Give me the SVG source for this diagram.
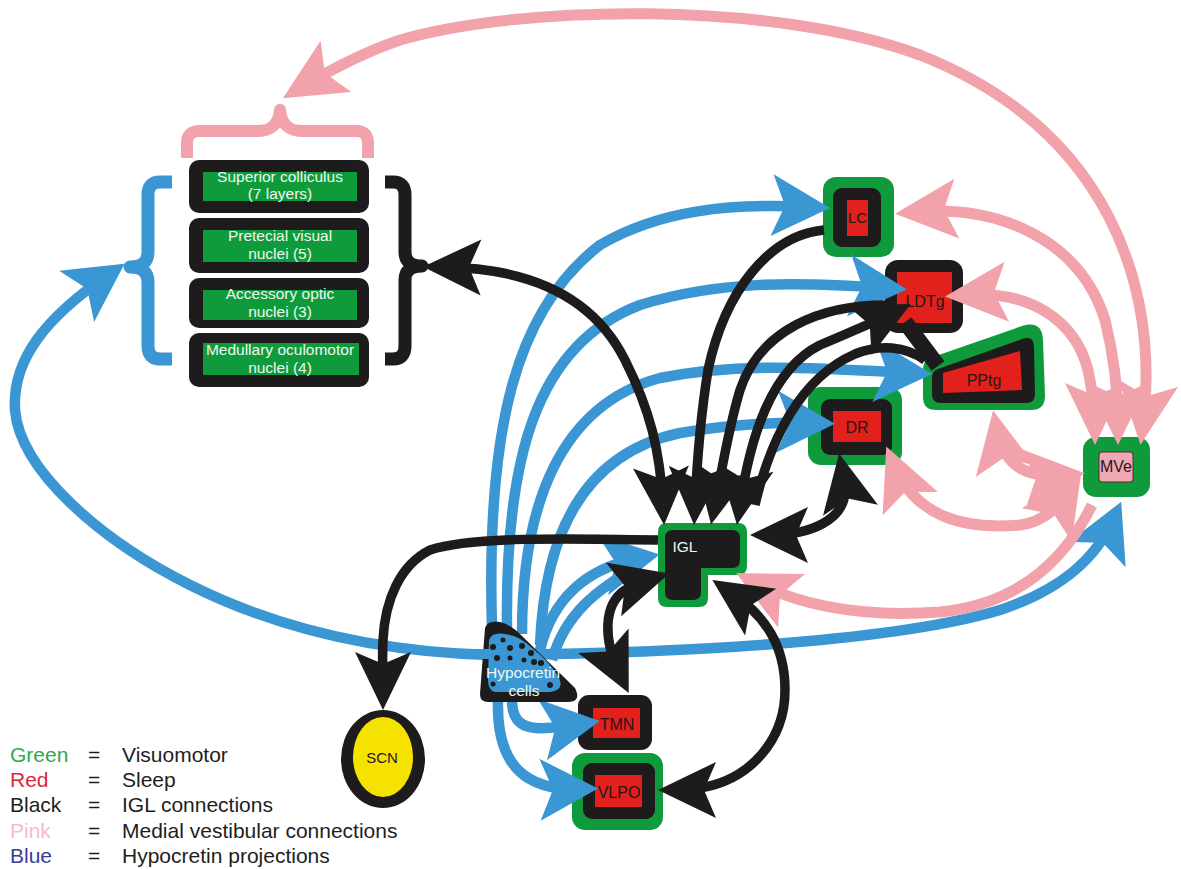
<svg xmlns="http://www.w3.org/2000/svg" width="1181" height="869" viewBox="0 0 1181 869">
<style>
.bl{fill:none;stroke:#3a97d4;stroke-width:10.5;stroke-linecap:butt}
.pk{fill:none;stroke:#f2a2ab;stroke-width:11}
.bk{fill:none;stroke:#1d1b1b;stroke-width:9.5}
.grn{fill:#0f9b3c}
.blk{fill:#1d1b1b}
.red{fill:#e2211c}
.lbl{font-family:"Liberation Sans",Arial,sans-serif;font-size:16px;fill:#2a1414;text-anchor:middle}
.wt{font-family:"Liberation Sans",Arial,sans-serif;font-size:15.5px;fill:#eef8ee;text-anchor:middle}
.lg{font-family:"Liberation Sans",Arial,sans-serif;font-size:21px;fill:#1e1e1e}
</style>
<defs>
<marker id="mb" markerUnits="userSpaceOnUse" markerWidth="58" markerHeight="62" refX="38" refY="31" orient="auto-start-reverse" overflow="visible"><path d="M0,0 L58,31 L0,62 L13,31 Z" fill="#3a97d4"/></marker>
<marker id="mk" markerUnits="userSpaceOnUse" markerWidth="58" markerHeight="56" refX="38" refY="28" orient="auto-start-reverse" overflow="visible"><path d="M0,0 L58,28 L0,56 L12,28 Z" fill="#1d1b1b"/></marker>
<marker id="mp" markerUnits="userSpaceOnUse" markerWidth="62" markerHeight="60" refX="42" refY="30" orient="auto-start-reverse" overflow="visible"><path d="M0,0 L62,30 L0,60 L13,30 Z" fill="#f2a2ab"/></marker>
</defs>
<rect width="1181" height="869" fill="#ffffff"/>

<g id="sc-group">
<path d="M187,158 L187,143 Q187,131 200,131 L258,131 Q278,131 280,110 Q282,131 302,131 L356,131 Q368,131 368,143 L368,158" fill="none" stroke="#f2a2ab" stroke-width="12" stroke-linejoin="round"/>
<path d="M172,182 L160,182 Q148,182 148,195 L148,252 Q148,267 130,267 Q148,267 148,282 L148,346 Q148,359 160,359 L172,359" fill="none" stroke="#3a97d4" stroke-width="13" stroke-linejoin="round"/>
<path d="M385,182 L393,182 Q405,182 405,195 L405,252 Q405,266 422,266 Q405,266 405,280 L405,346 Q405,359 393,359 L385,359" fill="none" stroke="#1d1b1b" stroke-width="13" stroke-linejoin="round"/>
<rect x="189" y="160" width="180" height="53" rx="10" class="blk"/>
<rect x="203" y="172" width="154" height="29" class="grn"/>
<text x="280" y="182" class="wt">Superior colliculus</text>
<text x="280" y="199" class="wt">(7 layers)</text>
<rect x="189" y="218" width="180" height="55" rx="10" class="blk"/>
<rect x="203" y="230" width="154" height="32" class="grn"/>
<text x="280" y="241" class="wt">Pretecial visual</text>
<text x="280" y="259" class="wt">nuclei (5)</text>
<rect x="189" y="278" width="180" height="50" rx="10" class="blk"/>
<rect x="203" y="290" width="154" height="30" class="grn"/>
<text x="280" y="299" class="wt">Accessory optic</text>
<text x="280" y="317" class="wt">nuclei (3)</text>
<rect x="189" y="333" width="180" height="54" rx="10" class="blk"/>
<rect x="203" y="343" width="156" height="32" class="grn"/>
<text x="280" y="355" class="wt">Medullary oculomotor</text>
<text x="280" y="373" class="wt">nuclei (4)</text>
</g>

<g id="LC">
<rect x="823" y="177" width="71" height="80" rx="13" class="grn"/>
<rect x="833" y="188" width="48" height="59" rx="9" class="blk"/>
<rect x="847" y="200" width="21" height="36" class="red"/>
<text x="857.5" y="223" class="lbl" style="font-size:15px">LC</text>
</g>
<g id="LDTg">
<rect x="885" y="260" width="78" height="73" rx="13" class="blk"/>
<rect x="897" y="272" width="55" height="51" class="red"/>
<text x="925" y="307" class="lbl">LDTg</text>
</g>
<g id="PPtg">
<path d="M930,358 L1022,326 Q1042,320 1043,340 L1045,396 Q1045,410 1031,410 L936,410 Q923,410 923,397 L923,370 Q923,361 930,358 Z" class="grn"/>
<path d="M938,369 L1022,339 Q1034,335 1034,347 L1035,394 Q1035,403 1026,403 L941,403 Q932,403 932,394 L932,377 Q932,371 938,369 Z" class="blk"/>
<path d="M943,373 L1020,351 L1022,390 L943,393 Z" class="red"/>
<text x="984" y="386" class="lbl">PPtg</text>
</g>
<g id="DR">
<rect x="808" y="387" width="94" height="78" rx="13" class="grn"/>
<rect x="821" y="399" width="71" height="56" rx="9" class="blk"/>
<rect x="833" y="411" width="48" height="31" class="red"/>
<text x="857" y="433" class="lbl">DR</text>
</g>
<g id="MVe">
<rect x="1083" y="437" width="67" height="60" rx="13" class="grn"/>
<rect x="1099" y="452" width="34" height="30" rx="3" fill="#f0a8b4" stroke="#5a2a2a" stroke-width="1"/>
<text x="1116" y="472" class="lbl">MVe</text>
</g>
<g id="IGL">
<path d="M658,532 Q658,523 667,523 L738,523 Q747,523 747,532 L747,566 Q747,575 738,575 L708,575 L708,598 Q708,607 699,607 L667,607 Q658,607 658,598 Z" class="grn"/>
<path d="M665,538 Q665,530 673,530 L732,530 Q740,530 740,538 L740,560 Q740,568 732,568 L701,568 L701,592 Q701,600 693,600 L673,600 Q665,600 665,592 Z" class="blk"/>
<text x="685" y="552" class="wt">IGL</text>
</g>
<g id="TMN">
<rect x="578" y="695" width="74" height="55" rx="11" class="blk"/>
<rect x="593" y="708" width="47" height="30" class="red"/>
<text x="617" y="730" class="lbl">TMN</text>
</g>
<g id="VLPO">
<rect x="572" y="753" width="91" height="77" rx="13" class="grn"/>
<rect x="583" y="763" width="72" height="56" rx="9" class="blk"/>
<rect x="595" y="775" width="47" height="32" class="red"/>
<text x="619" y="798" class="lbl">VLPO</text>
</g>
<g id="SCN">
<ellipse cx="383" cy="759" rx="42" ry="49" class="blk"/>
<ellipse cx="383" cy="757" rx="30" ry="40" fill="#f6e200"/>
<text x="382" y="763" class="lbl" style="font-size:15px">SCN</text>
</g>

<g id="connectors">
<!-- blue: hypocretin projections -->
<path class="bl" d="M108,275 C45,318 12,360 15,410 C20,470 100,540 190,585 C280,630 380,652 490,655 C700,653 900,640 1000,610 C1060,590 1095,560 1113,520" marker-start="url(#mb)" marker-end="url(#mb)"/>
<path class="bl" d="M492,628 C486,430 515,310 600,245 C660,210 730,203 810,207" marker-end="url(#mb)"/>
<path class="bl" d="M507,628 C505,460 535,345 640,305 C720,280 800,282 887,288" marker-end="url(#mb)"/>
<path class="bl" d="M522,634 C522,505 560,405 660,378 C740,362 820,368 912,373" marker-end="url(#mb)"/>
<path class="bl" d="M540,645 C545,525 590,452 680,433 C740,423 785,422 815,423" marker-end="url(#mb)"/>
<path class="bl" d="M540,650 C552,600 585,568 640,558" marker-end="url(#mb)"/>
<path class="bl" d="M552,660 C565,615 595,590 640,565"/>
<path class="bl" d="M512,700 C512,735 540,730 580,724" marker-end="url(#mb)"/>
<path class="bl" d="M498,700 C496,770 530,790 578,789" marker-end="url(#mb)"/>
<!-- pink: medial vestibular connections -->
<path class="pk" d="M1143,425 C1160,290 1110,130 920,55 C770,0 520,5 400,40 C365,52 330,70 300,88" marker-start="url(#mp)" marker-end="url(#mp)"/>
<path class="pk" d="M915,212 C1000,205 1080,240 1105,320 C1115,360 1118,400 1118,425" marker-start="url(#mp)" marker-end="url(#mp)"/>
<path class="pk" d="M965,295 C1030,290 1075,320 1088,370 C1093,395 1095,410 1095,425" marker-start="url(#mp)" marker-end="url(#mp)"/>
<path class="pk" d="M997,430 C1005,470 1030,478 1065,475" marker-start="url(#mp)" marker-end="url(#mp)"/>
<path class="pk" d="M894,465 C915,515 960,530 1020,525 C1045,522 1060,505 1070,490" marker-start="url(#mp)" marker-end="url(#mp)"/>
<path class="pk" d="M754,582 C800,605 860,618 940,612 C1010,605 1060,570 1092,505" marker-start="url(#mp)"/>
<!-- black: IGL connections -->
<path class="bk" d="M443,267 C520,268 590,290 625,360 C650,410 660,450 663,505" marker-start="url(#mk)" marker-end="url(#mk)"/>
<path class="bk" d="M824,230 C770,235 725,290 708,370 C700,420 697,460 695,505" marker-end="url(#mk)"/>
<path class="bk" d="M886,305 C820,305 760,330 740,390 C728,430 722,470 715,505" marker-end="url(#mk)"/>
<path class="bk" d="M740,505 C750,440 770,370 820,345 C850,332 875,322 893,313" marker-start="url(#mk)" marker-end="url(#mk)"/>
<path class="bk" d="M755,505 C770,440 800,378 855,354 C880,344 905,346 925,360"/>
<path d="M905,322 L938,366" stroke="#1d1b1b" stroke-width="16" fill="none"/>
<path class="bk" d="M770,535 C810,535 845,520 845,490 C845,485 844,478 843,473" marker-start="url(#mk)" marker-end="url(#mk)"/>
<path class="bk" d="M658,540 C560,538 470,537 430,550 C400,565 385,600 383,640 C382,660 383,675 383,690" marker-end="url(#mk)"/>
<path class="bk" d="M620,675 C603,640 603,605 625,590 C635,584 643,581 650,579" marker-start="url(#mk)" marker-end="url(#mk)"/>
<path class="bk" d="M729,591 C765,615 785,645 785,690 C785,740 750,780 700,788 C690,790 685,790 678,790" marker-start="url(#mk)" marker-end="url(#mk)"/>
</g>

<g id="hypocretin">
<path d="M485,628 Q488,620 500,622 Q510,624 522,636 L575,688 Q582,702 568,702 L488,702 Q480,702 480,694 Z" class="blk"/>
<path d="M489,640 Q492,632 505,634 Q520,636 532,648 Q548,660 558,676 Q566,690 550,692 L495,692 Q488,690 488,680 Z" fill="#3a97d4"/>
<path d="M476,654 L500,654" stroke="#3a97d4" stroke-width="10"/>
<g fill="#1d1b1b">
<circle cx="493" cy="647" r="3"/><circle cx="510" cy="648" r="3"/><circle cx="522" cy="646" r="3"/><circle cx="531" cy="653" r="3"/><circle cx="534" cy="662" r="3"/><circle cx="524" cy="660" r="2.5"/><circle cx="497" cy="658" r="3"/><circle cx="510" cy="658" r="2.5"/><circle cx="541" cy="663" r="3"/><circle cx="550" cy="685" r="3"/><circle cx="493" cy="684" r="2.5"/><circle cx="503" cy="640" r="2.5"/>
</g>
<text x="523" y="678" class="wt">Hypocretin</text>
<text x="524" y="696" class="wt">cells</text>
</g>

<g id="legend">
<text x="10" y="762" class="lg" style="fill:#2fa84f">Green</text>
<text x="88" y="762" class="lg">=</text><text x="122" y="762" class="lg">Visuomotor</text>
<text x="10" y="787" class="lg" style="fill:#d8283a">Red</text>
<text x="88" y="787" class="lg">=</text><text x="122" y="787" class="lg">Sleep</text>
<text x="10" y="812" class="lg">Black</text>
<text x="88" y="812" class="lg">=</text><text x="122" y="812" class="lg">IGL connections</text>
<text x="10" y="838" class="lg" style="fill:#f4bccb">Pink</text>
<text x="88" y="838" class="lg">=</text><text x="122" y="838" class="lg">Medial vestibular connections</text>
<text x="10" y="863" class="lg" style="fill:#3b3b9b">Blue</text>
<text x="88" y="863" class="lg">=</text><text x="122" y="863" class="lg">Hypocretin projections</text>
</g>
</svg>
